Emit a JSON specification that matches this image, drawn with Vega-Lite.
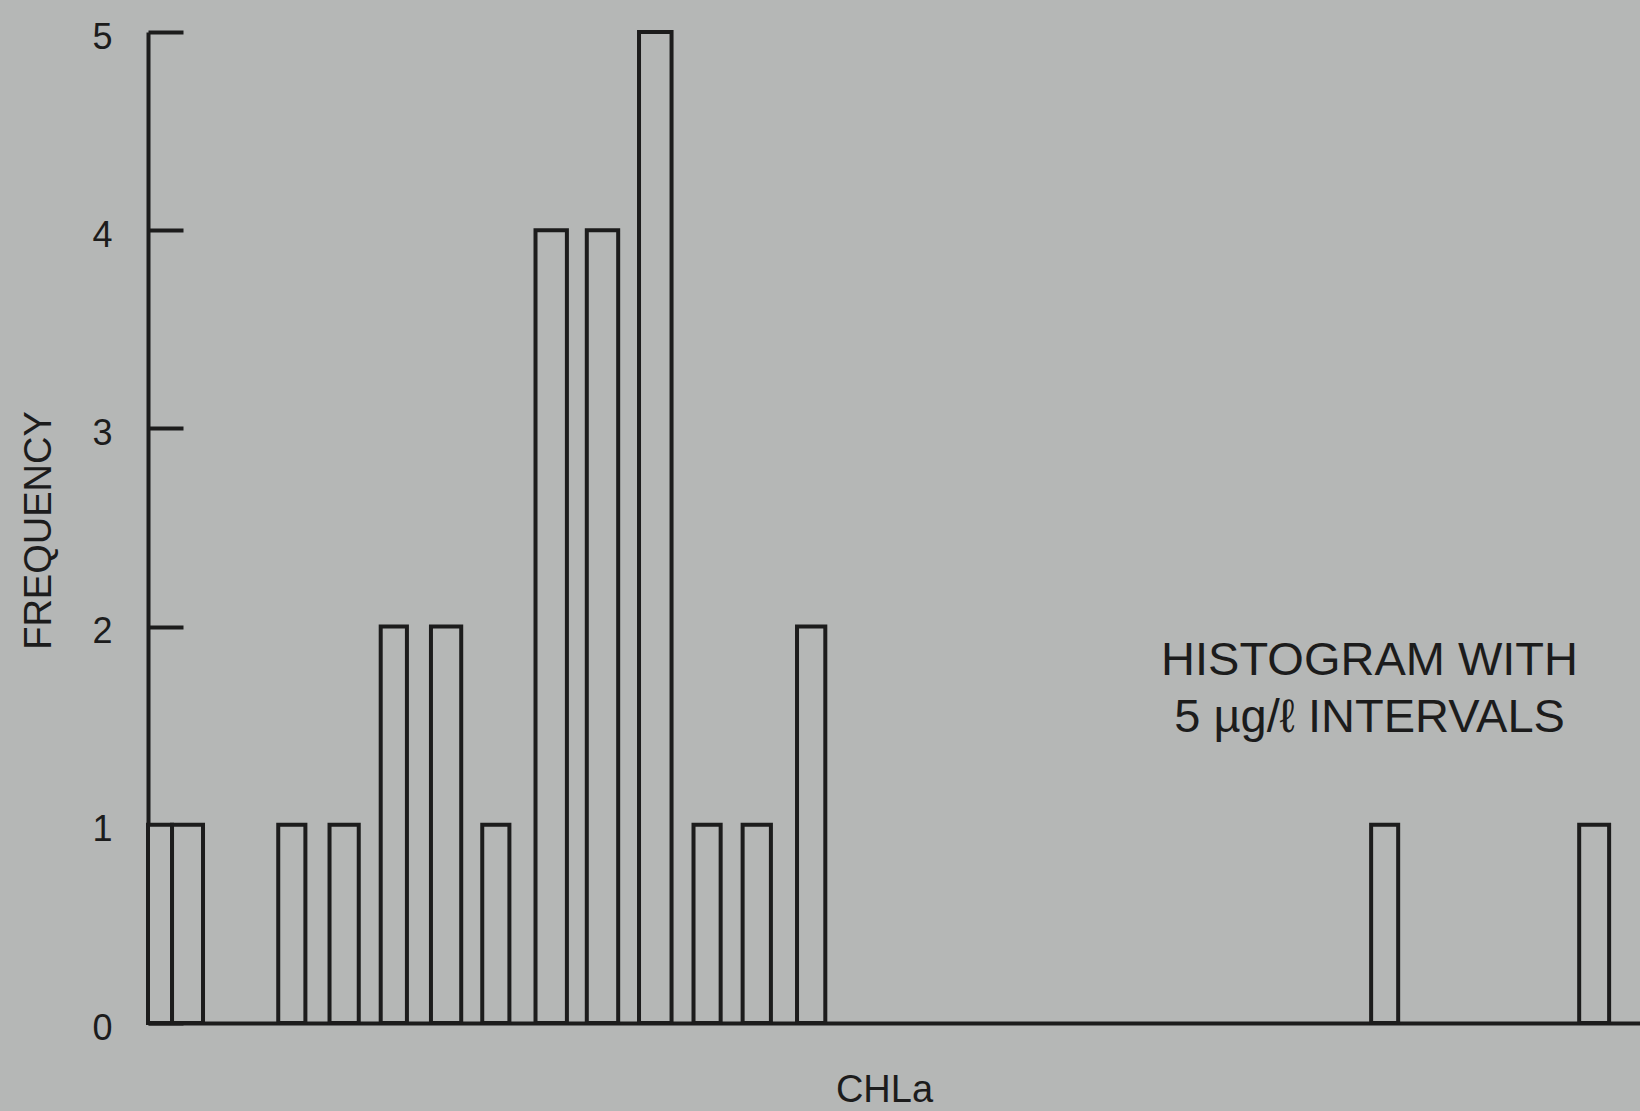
{
  "$schema": "https://vega.github.io/schema/vega-lite/v6.json",
  "width": 1492,
  "height": 991,
  "autosize": {"type": "none"},
  "padding": {"left": 148, "top": 32, "right": 0, "bottom": 88},
  "background": "#b5b7b6",
  "config": {"view": {"stroke": null}, "font": "Liberation Sans"},
  "layer": [
    {
      "data": {
        "values": [
          {"lo": 0, "hi": 2.32, "count": 1},
          {"lo": 2.32, "hi": 5.31, "count": 1},
          {"lo": 12.57, "hi": 15.19, "count": 1},
          {"lo": 17.52, "hi": 20.34, "count": 1},
          {"lo": 22.46, "hi": 24.99, "count": 2},
          {"lo": 27.31, "hi": 30.23, "count": 2},
          {"lo": 32.26, "hi": 34.88, "count": 1},
          {"lo": 37.4, "hi": 40.43, "count": 4},
          {"lo": 42.35, "hi": 45.38, "count": 4},
          {"lo": 47.39, "hi": 50.53, "count": 5},
          {"lo": 52.65, "hi": 55.27, "count": 1},
          {"lo": 57.39, "hi": 60.12, "count": 1},
          {"lo": 62.64, "hi": 65.37, "count": 2},
          {"lo": 118.05, "hi": 120.66, "count": 1},
          {"lo": 138.13, "hi": 141.02, "count": 1}
        ]
      },
      "mark": {"type": "rect", "fill": "#b5b7b6", "stroke": "#1c1c1c", "strokeWidth": 4},
      "encoding": {
        "x": {
          "field": "lo",
          "type": "quantitative",
          "scale": {"domain": [0, 144], "nice": false, "zero": false},
          "axis": {
            "title": "CHLa",
            "ticks": false,
            "labels": false,
            "grid": false,
            "domainColor": "#1c1c1c",
            "domainWidth": 4,
            "titleFontSize": 38,
            "titleFontWeight": "normal",
            "titleColor": "#1c1c1c",
            "titleX": 736,
            "titleY": 78,
            "titleAlign": "center",
            "titleBaseline": "alphabetic"
          }
        },
        "x2": {"field": "hi"},
        "y": {
          "field": "count",
          "type": "quantitative",
          "scale": {"domain": [0, 5], "nice": false},
          "axis": {
            "title": "FREQUENCY",
            "values": [0, 1, 2, 3, 4, 5],
            "format": "d",
            "grid": false,
            "domainColor": "#1c1c1c",
            "domainWidth": 4,
            "tickColor": "#1c1c1c",
            "tickWidth": 4,
            "tickSize": -35,
            "labelPadding": 71,
            "labelFontSize": 36,
            "labelColor": "#1c1c1c",
            "labelOffset": 5,
            "titleFontSize": 38,
            "titleFontWeight": "normal",
            "titleColor": "#1c1c1c",
            "titleX": -98,
            "titleY": 498,
            "titleAngle": -90,
            "titleAlign": "center",
            "titleBaseline": "alphabetic"
          }
        },
        "y2": {"datum": 0}
      }
    },
    {
      "data": {"values": [{"note": "HISTOGRAM WITH\n5 µg/ℓ INTERVALS"}]},
      "mark": {
        "type": "text",
        "lineBreak": "\n",
        "lineHeight": 57,
        "fontSize": 47,
        "align": "center",
        "baseline": "alphabetic",
        "color": "#1c1c1c"
      },
      "encoding": {
        "x": {"datum": 117.9, "type": "quantitative"},
        "y": {"datum": 1.756, "type": "quantitative"},
        "text": {"field": "note"}
      }
    }
  ]
}
